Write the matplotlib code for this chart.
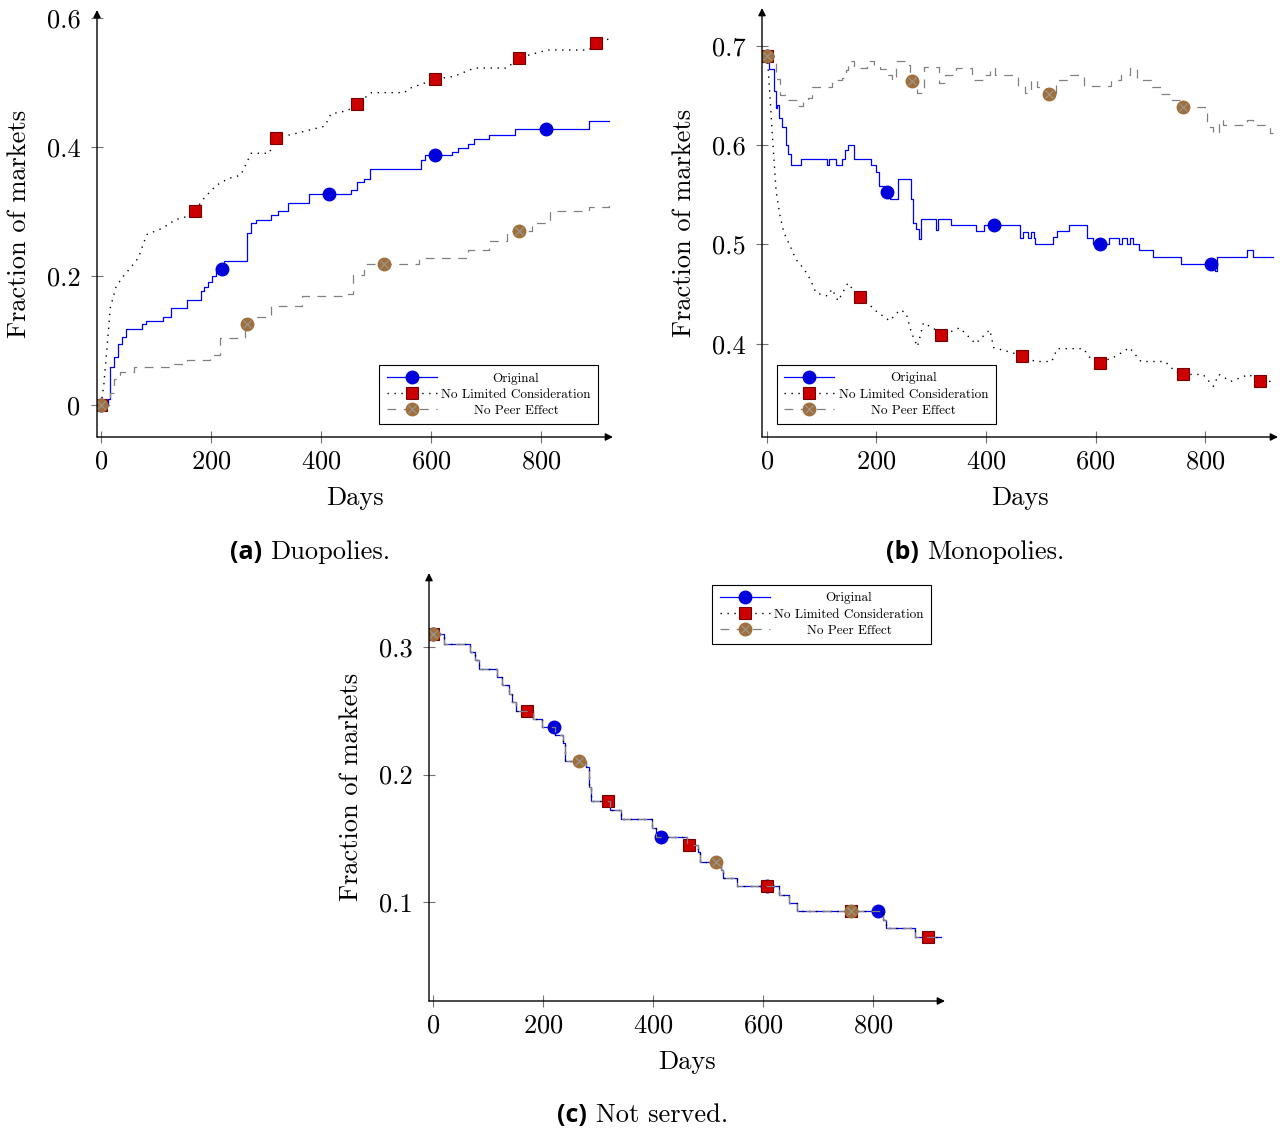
import numpy as np
import matplotlib.pyplot as plt
from matplotlib.lines import Line2D
from matplotlib.legend_handler import HandlerTuple
from matplotlib.ticker import FuncFormatter

plt.rcParams['font.family'] = 'cmr10'
plt.rcParams['mathtext.fontset'] = 'cm'
plt.rcParams['axes.formatter.use_mathtext'] = True

# ---- data ----
labels = ['Original', 'No Limited Consideration', 'No Peer Effect']
x_ticks = [0, 200, 400, 600, 800]

# marker days used by each series
orig_marks = [0, 220, 415, 608, 810]
nlc_marks = [0, 170, 318, 465, 608, 760, 900]
npe_marks = [0, 265, 515, 760]

# (a) duopolies
a_orig_days = [0, 12, 17, 23, 30, 38, 45, 74, 81, 112, 127, 157, 182, 187, 194, 202, 209, 224, 265, 273,
               282, 310, 321, 340, 378, 455, 466, 478, 489, 582, 589, 638, 649, 668, 679, 705, 753, 887, 924]
a_orig_frac = [0, 0.01, 0.059, 0.075, 0.095, 0.105, 0.118, 0.125, 0.13, 0.137, 0.151, 0.163, 0.177, 0.183,
               0.19, 0.2, 0.21, 0.223, 0.267, 0.282, 0.287, 0.294, 0.3, 0.313, 0.327, 0.333, 0.346, 0.35,
               0.366, 0.379, 0.387, 0.392, 0.398, 0.404, 0.412, 0.418, 0.427, 0.44, 0.44]
a_nlc_days = [0, 5, 12, 17, 27, 38, 53, 68, 83, 112, 135, 165, 187, 209, 232, 254, 273, 306, 317, 351,
              407, 418, 448, 466, 492, 552, 559, 589, 608, 641, 679, 738, 760, 812, 887, 902, 924]
a_nlc_frac = [0, 0.03, 0.1, 0.151, 0.182, 0.197, 0.212, 0.228, 0.264, 0.274, 0.287, 0.294, 0.32, 0.34,
              0.351, 0.356, 0.39, 0.39, 0.414, 0.42, 0.432, 0.451, 0.456, 0.467, 0.484, 0.484, 0.49,
              0.499, 0.505, 0.509, 0.522, 0.522, 0.538, 0.55, 0.55, 0.563, 0.567]
a_npe_days = [0, 16, 23, 34, 60, 127, 157, 198, 217, 261, 273, 310, 366, 448, 459, 478, 578, 668, 705,
              738, 783, 816, 887, 924]
a_npe_frac = [0, 0.018, 0.04, 0.051, 0.059, 0.064, 0.07, 0.078, 0.104, 0.125, 0.136, 0.154, 0.169, 0.172,
              0.202, 0.218, 0.228, 0.24, 0.254, 0.27, 0.282, 0.3, 0.307, 0.31]

# (b) monopolies
b_orig_days = [0, 4, 13, 17, 19, 22, 28, 35, 39, 44, 62, 110, 114, 126, 137, 143, 148, 160, 190, 199,
               205, 214, 224, 239, 263, 266, 272, 278, 281, 309, 312, 337, 381, 396, 462, 468, 476, 482,
               487, 490, 523, 530, 552, 584, 596, 625, 643, 648, 658, 662, 668, 680, 705, 756, 818, 822,
               876, 887, 924]
b_orig_frac = [0.69, 0.677, 0.654, 0.637, 0.64, 0.627, 0.618, 0.6, 0.591, 0.58, 0.586, 0.58, 0.586, 0.58,
               0.586, 0.595, 0.6, 0.586, 0.58, 0.573, 0.559, 0.553, 0.546, 0.566, 0.546, 0.522, 0.515,
               0.505, 0.526, 0.514, 0.526, 0.519, 0.513, 0.519, 0.506, 0.512, 0.506, 0.512, 0.506, 0.5,
               0.507, 0.513, 0.519, 0.506, 0.5, 0.506, 0.5, 0.506, 0.5, 0.506, 0.5, 0.494, 0.487, 0.48,
               0.473, 0.487, 0.494, 0.487, 0.487]
b_nlc_days = [0, 2, 6, 9, 13, 17, 24, 31, 42, 53, 68, 79, 90, 111, 119, 130, 148, 162, 170, 184, 199,
              224, 243, 254, 264, 275, 286, 308, 319, 352, 381, 407, 414, 447, 465, 490, 520, 530, 578,
              592, 608, 636, 662, 683, 727, 745, 760, 796, 815, 825, 847, 880, 898, 924]
b_nlc_frac = [0.69, 0.68, 0.647, 0.62, 0.586, 0.553, 0.529, 0.512, 0.499, 0.485, 0.475, 0.465, 0.451,
              0.448, 0.455, 0.443, 0.461, 0.451, 0.447, 0.441, 0.433, 0.423, 0.434, 0.431, 0.411, 0.397,
              0.421, 0.414, 0.408, 0.416, 0.4, 0.414, 0.396, 0.391, 0.388, 0.382, 0.382, 0.395, 0.395,
              0.384, 0.381, 0.387, 0.396, 0.382, 0.382, 0.372, 0.369, 0.369, 0.357, 0.369, 0.362, 0.369,
              0.362, 0.362]
b_npe_days = [0, 9, 17, 24, 35, 57, 66, 75, 82, 119, 126, 137, 144, 148, 159, 183, 195, 206, 217, 228,
              235, 257, 262, 275, 286, 315, 326, 345, 374, 396, 407, 417, 458, 472, 483, 494, 510, 527,
              552, 578, 629, 647, 662, 676, 701, 720, 738, 755, 804, 815, 825, 833, 876, 887, 918, 924]
b_npe_frac = [0.69, 0.684, 0.667, 0.65, 0.645, 0.639, 0.645, 0.647, 0.658, 0.662, 0.666, 0.668, 0.676,
              0.685, 0.678, 0.685, 0.681, 0.677, 0.671, 0.666, 0.685, 0.681, 0.664, 0.652, 0.679, 0.662,
              0.671, 0.678, 0.666, 0.671, 0.678, 0.671, 0.659, 0.652, 0.666, 0.658, 0.651, 0.666, 0.671,
              0.659, 0.666, 0.671, 0.678, 0.666, 0.658, 0.651, 0.645, 0.638, 0.618, 0.612, 0.625, 0.62,
              0.625, 0.62, 0.612, 0.612]

# (c) not served -- the three runs coincide
c_days = [0, 20, 67, 76, 83, 117, 126, 138, 144, 151, 181, 198, 222, 236, 240, 279, 283, 288, 321, 342,
          398, 405, 462, 481, 485, 524, 528, 553, 629, 647, 661, 819, 823, 877, 924]
c_frac = [0.31, 0.3026, 0.296, 0.29, 0.2825, 0.2765, 0.27, 0.2635, 0.2565, 0.25, 0.2437, 0.2369, 0.231,
          0.2244, 0.2105, 0.206, 0.19, 0.179, 0.172, 0.165, 0.158, 0.151, 0.145, 0.139, 0.131, 0.125,
          0.119, 0.1122, 0.1057, 0.0992, 0.0927, 0.0861, 0.0794, 0.0723, 0.0723]

# ---- styles ----
STYLE = {
    'orig': dict(line=dict(color='blue', ls='-', lw=0.9),
                 mark=dict(marker='o', ms=9, mfc='#0000dd', mec='#0000dd')),
    'nlc': dict(line=dict(color='black', ls=(0, (1, 4)), lw=1.0),
                mark=dict(marker='s', ms=8.8, mfc='#cc0000', mec='#770000', mew=0.8)),
    'npe': dict(line=dict(color='0.5', ls=(0, (7, 6)), lw=0.9),
                mark=dict(marker='o', ms=9, mfc='#a0703c', mec='#a0703c')),
}


def value_at(days, vals, marks, step):
    days = np.asarray(days)
    vals = np.asarray(vals)
    if step:
        idx = np.searchsorted(days, marks, side='right') - 1
        return vals[idx]
    return np.interp(marks, days, vals)


def draw(ax, key, days, vals, marks, step=True):
    st = STYLE[key]
    ax.plot(days, vals, drawstyle='steps-post' if step else 'default', **st['line'])
    ym = value_at(days, vals, marks, step)
    ax.plot(marks, ym, ls='none', **st['mark'])
    if key == 'npe':
        ax.plot(marks, ym, ls='none', marker='x', ms=5.5, mec='0.6', mew=0.8)


def legend_handles():
    hs = []
    for key in ['orig', 'nlc', 'npe']:
        st = STYLE[key]
        h = Line2D([], [], **st['line'], **st['mark'])
        if key == 'npe':
            h = (h, Line2D([], [], ls='none', marker='x', ms=5.5, mec='0.6', mew=0.8))
        hs.append(h)
    return hs


def style_axes(ax, xlim, ylim, yticks, loc, anchor):
    ax.set_xlim(*xlim)
    ax.set_ylim(*ylim)
    for s in ax.spines.values():
        s.set_visible(False)
    arrow = dict(arrowstyle='-|>', color='black', lw=1.0, shrinkA=0, shrinkB=0, mutation_scale=11)
    ax.annotate('', xy=(1, 0), xytext=(0, 0), xycoords='axes fraction', arrowprops=arrow)
    ax.annotate('', xy=(0, 1), xytext=(0, 0), xycoords='axes fraction', arrowprops=arrow)
    ax.set_xticks(x_ticks)
    ax.set_yticks(yticks)
    ax.yaxis.set_major_formatter(FuncFormatter(lambda v, _: f'{v:g}'))
    ax.tick_params(direction='inout', length=8, width=0.8, color='0.45', labelsize=19, pad=5)
    ax.tick_params(axis='y', pad=8)
    ax.set_xlabel('Days', fontsize=19)
    ax.set_ylabel('Fraction of markets', fontsize=19)
    ax.xaxis.set_label_coords(0.5, -0.115)
    ax.yaxis.set_label_coords(-0.128, 0.5)
    leg = ax.legend(legend_handles(), labels, loc=loc, bbox_to_anchor=anchor, fontsize=9.5,
                    handlelength=3.8, handletextpad=0.35, borderpad=0.55, labelspacing=0.3,
                    borderaxespad=0, fancybox=False, framealpha=1, edgecolor='black',
                    handler_map={tuple: HandlerTuple(ndivide=1)})
    leg.get_frame().set_linewidth(0.8)
    return leg


def center_legend_text(fig, legs):
    # pgfplots centres the entries; shift each label by half its slack
    fig.canvas.draw()
    r = fig.canvas.get_renderer()
    for leg in legs:
        texts = leg.get_texts()
        widths = [t.get_window_extent(r).width for t in texts]
        wmax = max(widths)
        for t, w in zip(texts, widths):
            t.set_x((wmax - w) / 2)


W, H = 1286, 1131
fig = plt.figure(figsize=(W / 100, H / 100), dpi=100)

ax_a = fig.add_axes([97 / W, 1 - 437 / H, 516 / W, 427 / H])
draw(ax_a, 'orig', a_orig_days, a_orig_frac, orig_marks)
draw(ax_a, 'nlc', a_nlc_days, a_nlc_frac, nlc_marks, step=False)
draw(ax_a, 'npe', a_npe_days, a_npe_frac, npe_marks)
leg_a = style_axes(ax_a, (-7.3, 931), (-0.0496, 0.612), [0, 0.2, 0.4, 0.6], 'lower right', (0.971, 0.03))

ax_b = fig.add_axes([762 / W, 1 - 437 / H, 516 / W, 429 / H])
draw(ax_b, 'orig', b_orig_days, b_orig_frac, orig_marks)
draw(ax_b, 'nlc', b_nlc_days, b_nlc_frac, nlc_marks, step=False)
draw(ax_b, 'npe', b_npe_days, b_npe_frac, npe_marks)
leg_b = style_axes(ax_b, (-8.8, 933), (0.306, 0.738), [0.4, 0.5, 0.6, 0.7], 'lower left', (0.029, 0.03))

ax_c = fig.add_axes([429 / W, 1 - 1001 / H, 516 / W, 428 / H])
draw(ax_c, 'orig', c_days, c_frac, orig_marks)
draw(ax_c, 'nlc', c_days, c_frac, nlc_marks)
draw(ax_c, 'npe', c_days, c_frac, npe_marks)
leg_c = style_axes(ax_c, (-7.3, 931), (0.0224, 0.358), [0.1, 0.2, 0.3], 'upper right', (0.973, 0.972))

# sub-captions
captions = [('(a)', 'Duopolies.', 262, 270, 559),
            ('(b)', 'Monopolies.', 919, 927, 559),
            ('(c)', 'Not served.', 587, 596, 1122)]
for tag, name, xr, xl, yb in captions:
    fig.text(xr / W, 1 - yb / H, tag, ha='right', va='baseline', fontsize=18,
             family='Open Sans', weight='bold')
    fig.text(xl / W, 1 - yb / H, name, ha='left', va='baseline', fontsize=19)

center_legend_text(fig, [leg_a, leg_b, leg_c])
fig.savefig('out.png', dpi=100)
